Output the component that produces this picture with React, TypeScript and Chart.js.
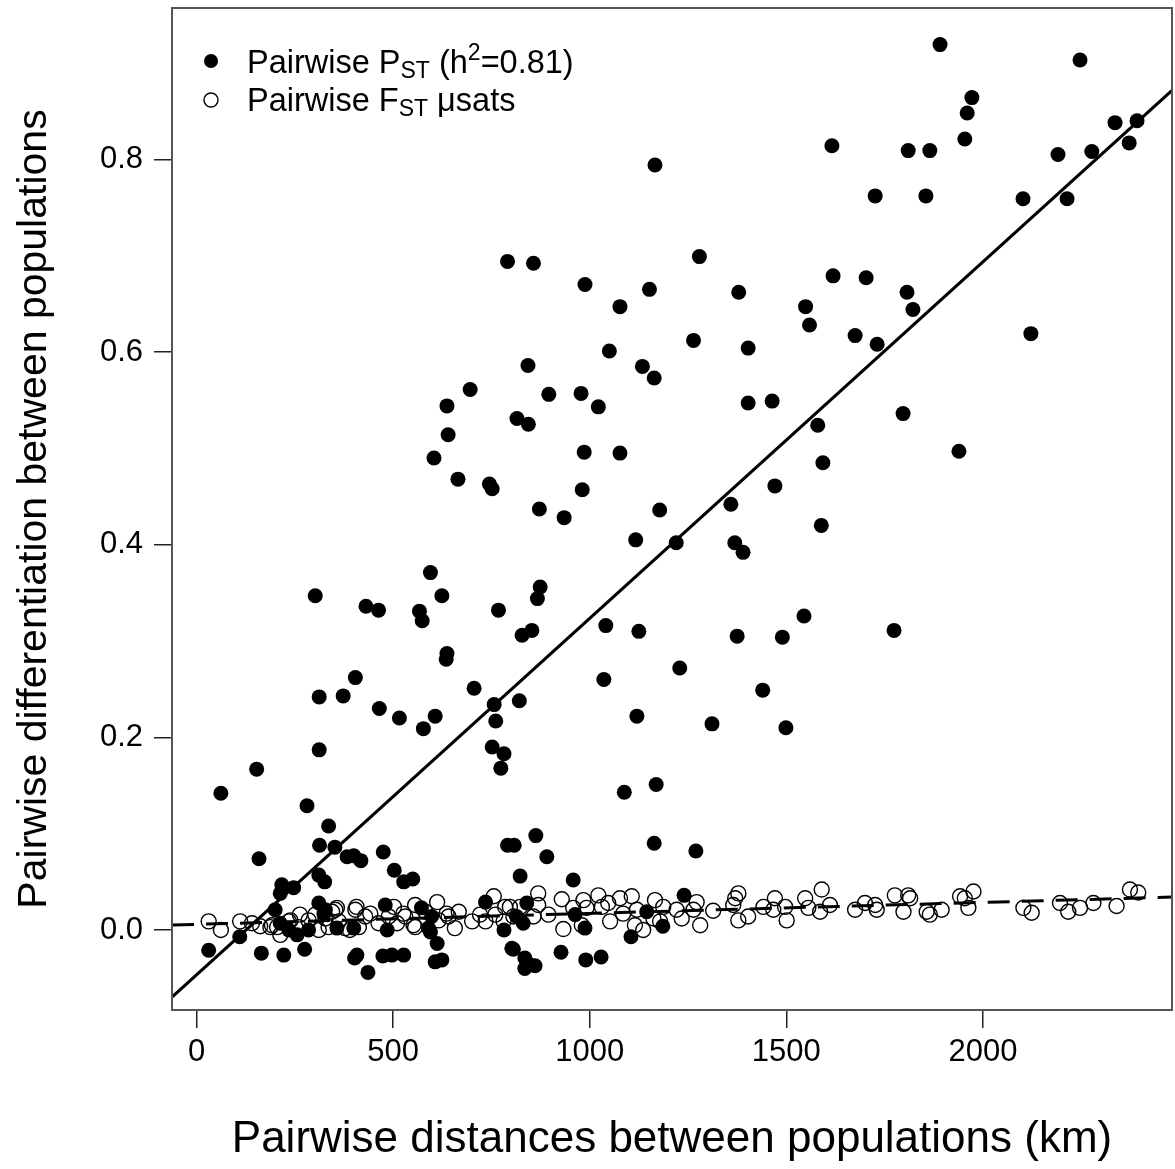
import React, { useEffect, useRef } from 'react';
import { Chart, registerables } from 'chart.js';

Chart.register(...registerables);

const FONT = '"Liberation Sans", Arial, Helvetica, sans-serif';

// Pairwise PST (h2 = 0.81): distance (km) and differentiation
const pstDistance = [
  1891, 2247, 1972, 1960, 1954, 2336, 2392, 2372, 2277, 2191, 2214, 2102, 2122, 1616, 1810, 1865,
  1726, 1855, 1619, 1703, 1807, 1822, 1675, 1731, 1797, 1939, 1774, 1166, 791, 857, 1279, 988,
  1152, 1379, 1077, 1549, 1559, 1050, 1264, 1403, 843, 1134, 1164, 896, 978, 1022, 1403, 1464,
  815, 844, 1580, 986, 1077, 1593, 745, 752, 981, 1471, 872, 935, 1178, 1359, 1589, 1117,
  1220, 1369, 1390, 874, 867, 768, 828, 853, 1041, 1125, 1375, 1490, 1545, 1229, 1036, 1440,
  757, 821, 761, 1120, 1311, 1499, 752, 782, 774, 1088, 1169, 791, 808, 863, 891, 1164,
  1270, 595, 302, 624, 431, 463, 567, 574, 637, 635, 404, 312, 373, 465, 516, 577,
  607, 706, 312, 153, 62, 281, 336, 313, 352, 159, 383, 400, 418, 475, 503, 527,
  550, 311, 326, 217, 247, 213, 200, 696, 637, 640, 604, 665, 802, 735, 110, 31,
  165, 222, 275, 408, 402, 436, 474, 497, 527, 612, 607, 624, 823, 958, 806, 835,
  848, 861, 835, 927, 990, 1029, 1105, 1240, 1145, 1186, 988, 782, 840, 311, 324, 357,
  256, 400, 485, 595, 572, 480, 814, 831, 590, 598, 235, 213, 285, 328, 963,
];
const pstValue = [
  0.919, 0.903, 0.864, 0.848, 0.821, 0.838, 0.840, 0.817, 0.808, 0.805, 0.759, 0.759, 0.619, 0.814, 0.809, 0.809,
  0.762, 0.762, 0.679, 0.677, 0.662, 0.644, 0.617, 0.608, 0.536, 0.497, 0.311, 0.794, 0.694, 0.692, 0.699, 0.670,
  0.665, 0.662, 0.647, 0.647, 0.628, 0.601, 0.612, 0.604, 0.586, 0.585, 0.573, 0.556, 0.557, 0.543, 0.547, 0.549,
  0.531, 0.525, 0.524, 0.496, 0.495, 0.485, 0.463, 0.458, 0.457, 0.461, 0.437, 0.428, 0.436, 0.442, 0.420, 0.405,
  0.402, 0.402, 0.392, 0.356, 0.344, 0.332, 0.306, 0.311, 0.316, 0.310, 0.305, 0.304, 0.326, 0.272, 0.260, 0.249,
  0.234, 0.238, 0.217, 0.222, 0.214, 0.210, 0.190, 0.183, 0.168, 0.143, 0.151, 0.088, 0.088, 0.098, 0.076, 0.090,
  0.082, 0.371, 0.347, 0.347, 0.336, 0.332, 0.331, 0.321, 0.287, 0.281, 0.262, 0.242, 0.243, 0.230, 0.220, 0.209,
  0.222, 0.251, 0.187, 0.167, 0.142, 0.129, 0.108, 0.088, 0.086, 0.074, 0.076, 0.077, 0.072, 0.081, 0.062, 0.050,
  0.053, 0.057, 0.050, 0.047, 0.044, 0.038, 0.021, 0.561, 0.544, 0.514, 0.490, 0.468, -0.019, 0.029, -0.007, -0.021,
  -0.024, -0.026, -0.020, -0.026, -0.029, -0.044, -0.027, -0.026, -0.026, -0.014, -0.033, -0.031, 0.056, 0.052, -0.020, -0.029,
  -0.036, -0.037, -0.040, -0.023, -0.031, -0.028, -0.007, 0.036, 0.019, 0.004, 0.002, 0.000, 0.028, 0.028, 0.017, 0.002,
  -0.005, 0.002, 0.000, -0.002, 0.023, 0.026, 0.014, 0.007, 0.002, 0.014, 0.000, 0.007, 0.000, 0.021, 0.016,
];

// Pairwise FST from microsatellites: distance (km) and differentiation
const fstDistance = [
  31, 62, 111, 141, 162, 188, 213, 205, 239, 260, 285, 311, 302, 328, 353, 362,
  404, 429, 442, 378, 413, 463, 502, 531, 510, 552, 612, 582, 641, 667, 701, 756,
  760, 781, 735, 785, 616, 489, 192, 235, 345, 336, 357, 407, 526, 636, 797, 556,
  806, 823, 869, 869, 895, 857, 929, 933, 958, 984, 992, 980, 1022, 1031, 1052, 1047,
  1077, 1107, 1085, 1120, 1115, 1136, 1166, 1162, 1187, 1179, 1221, 1234, 1272, 1264, 1281, 1314,
  1365, 1378, 1370, 1378, 1403, 1442, 1471, 1467, 1497, 1501, 1548, 1556, 1590, 1586, 1611, 1675,
  1700, 1730, 1726, 1776, 1810, 1815, 1798, 1857, 1865, 1895, 1942, 1976, 1954, 1963, 2103, 2124,
  2196, 2217, 2247, 2281, 2340, 2374, 2395, 390, 657, 721, 556, 263,
];
const fstValue = [
  0.009, 0.000, 0.009, 0.007, 0.004, 0.003, -0.005, 0.003, 0.010, 0.003, 0.010, 0.000, 0.016, 0.012, 0.021, 0.009,
  0.021, 0.014, 0.017, 0.002, 0.003, 0.007, 0.024, 0.014, 0.007, 0.005, 0.029, 0.019, 0.014, 0.019, 0.009, 0.035,
  0.016, 0.009, 0.009, 0.024, 0.010, 0.014, 0.005, 0.009, 0.019, 0.003, 0.023, 0.024, 0.017, 0.017, 0.024, 0.003,
  0.014, 0.024, 0.038, 0.026, 0.016, 0.014, 0.032, 0.001, 0.023, 0.031, 0.023, 0.005, 0.036, 0.024, 0.009, 0.028,
  0.033, 0.035, 0.017, 0.021, 0.005, 0.000, 0.031, 0.012, 0.024, 0.009, 0.021, 0.012, 0.029, 0.021, 0.005, 0.020,
  0.026, 0.038, 0.033, 0.010, 0.014, 0.024, 0.033, 0.021, 0.024, 0.010, 0.033, 0.023, 0.042, 0.019, 0.026, 0.021,
  0.028, 0.021, 0.026, 0.036, 0.036, 0.033, 0.019, 0.019, 0.016, 0.021, 0.035, 0.040, 0.033, 0.023, 0.023, 0.018,
  0.028, 0.019, 0.023, 0.028, 0.025, 0.042, 0.039, 0.000, 0.002, 0.016, 0.026, 0.016,
];

// Regression fits: [intercept, slope per km]
const pstFit = [-0.0465, 0.000370];
const fstFit = [0.0059, 0.0000114];

// Axes
const xRange = [-62.3, 2480.9];
const yRange = [-0.083, 0.957];
const xTicks = [0, 500, 1000, 1500, 2000];
const yTicks = [0, 0.2, 0.4, 0.6, 0.8];

const xTitle = 'Pairwise distances between populations (km)';
const yTitle = 'Pairwise differentiation between populations';

const W = 1175;
const H = 1169;

const fitLine = (fit: number[]) =>
  xRange.map((x) => ({ x, y: fit[0] + fit[1] * x }));

const boxAndLegend = {
  id: 'boxAndLegend',
  afterDraw(chart: any) {
    const { ctx, chartArea } = chart;
    ctx.save();
    // plot box
    ctx.strokeStyle = '#555';
    ctx.lineWidth = 2;
    ctx.strokeRect(chartArea.left, chartArea.top, chartArea.right - chartArea.left, chartArea.bottom - chartArea.top);

    // legend
    const main = 32.5;
    const small = 23;
    ctx.fillStyle = '#000';
    ctx.strokeStyle = '#000';
    ctx.textAlign = 'left';
    ctx.textBaseline = 'alphabetic';
    const drawRow = (parts: [string, number, number][], x0: number, base: number) => {
      let x = x0;
      for (const [t, size, dy] of parts) {
        ctx.font = `${size}px ${FONT}`;
        ctx.fillText(t, x, base + dy);
        x += ctx.measureText(t).width;
      }
    };
    ctx.beginPath();
    ctx.arc(211, 61, 7, 0, Math.PI * 2);
    ctx.fill();
    drawRow(
      [
        ['Pairwise P', main, 0],
        ['ST', small, 5],
        [' (h', main, 0],
        ['2', small, -13],
        ['=0.81)', main, 0],
      ],
      247,
      73
    );
    ctx.beginPath();
    ctx.lineWidth = 1.4;
    ctx.arc(211, 100, 7, 0, Math.PI * 2);
    ctx.stroke();
    drawRow(
      [
        ['Pairwise F', main, 0],
        ['ST', small, 5],
        [' \u03BCsats', main, 0],
      ],
      247,
      111
    );
    ctx.restore();
  },
};

export default function App() {
  const ref = useRef<HTMLCanvasElement | null>(null);

  useEffect(() => {
    if (!ref.current) return;
    const chart = new Chart(ref.current, {
      type: 'scatter',
      data: {
        datasets: [
          {
            label: 'Pairwise FST µsats',
            data: fstDistance.map((x, i) => ({ x, y: fstValue[i] })),
            pointStyle: 'circle',
            pointRadius: 7.5,
            pointBorderWidth: 1.4,
            pointBorderColor: '#000',
            pointBackgroundColor: 'rgba(0,0,0,0)',
            showLine: false,
          },
          {
            label: 'FST fit',
            type: 'line',
            data: fitLine(fstFit),
            borderColor: '#000',
            borderWidth: 3,
            borderDash: [22, 12],
            pointRadius: 0,
            fill: false,
          },
          {
            label: 'PST fit',
            type: 'line',
            data: fitLine(pstFit),
            borderColor: '#000',
            borderWidth: 3,
            pointRadius: 0,
            fill: false,
          },
          {
            label: 'Pairwise PST (h2=0.81)',
            data: pstDistance.map((x, i) => ({ x, y: pstValue[i] })),
            pointStyle: 'circle',
            pointRadius: 7.5,
            pointBorderWidth: 0,
            pointBackgroundColor: '#000',
            showLine: false,
          },
        ],
      },
      options: {
        animation: false,
        responsive: false,
        events: [],
        layout: { autoPadding: false, padding: { left: 0, right: 3, top: 8, bottom: 0 } },
        plugins: {
          legend: { display: false },
          tooltip: { enabled: false },
        },
        scales: {
          x: {
            type: 'linear',
            min: xRange[0],
            max: xRange[1],
            afterBuildTicks: (s: any) => {
              s.ticks = xTicks.map((value) => ({ value }));
            },
            afterFit: (s: any) => {
              s.height = 159;
              s.paddingLeft = 0;
              s.paddingRight = 0;
            },
            ticks: {
              color: '#000',
              font: { family: FONT, size: 31 },
              padding: 6,
              maxRotation: 0,
              callback: (v: any) => String(v),
            },
            grid: {
              drawOnChartArea: false,
              drawTicks: true,
              tickLength: 18,
              color: '#222',
              lineWidth: 1.5,
            },
            border: { display: false },
            title: {
              display: true,
              text: xTitle,
              color: '#000',
              font: { family: FONT, size: 44 },
              padding: { top: 0, bottom: 3 },
            },
          },
          y: {
            type: 'linear',
            min: yRange[0],
            max: yRange[1],
            afterBuildTicks: (s: any) => {
              s.ticks = yTicks.map((value) => ({ value }));
            },
            afterFit: (s: any) => {
              s.width = 172;
              s.paddingTop = 0;
              s.paddingBottom = 0;
            },
            ticks: {
              color: '#000',
              font: { family: FONT, size: 31 },
              padding: 11,
              callback: (v: any) => Number(v).toFixed(1),
            },
            grid: {
              drawOnChartArea: false,
              drawTicks: true,
              tickLength: 18,
              color: '#222',
              lineWidth: 1.5,
            },
            border: { display: false },
            title: {
              display: true,
              text: yTitle,
              color: '#000',
              font: { family: FONT, size: 41 },
              padding: { top: 10, bottom: 0 },
            },
          },
        },
      },
      plugins: [boxAndLegend],
    } as any);
    return () => chart.destroy();
  }, []);

  return (
    <div style={{ position: 'absolute', left: 0, top: 0, width: W, height: H, background: '#fff' }}>
      <canvas ref={ref} width={W} height={H} style={{ display: 'block' }} />
    </div>
  );
}
